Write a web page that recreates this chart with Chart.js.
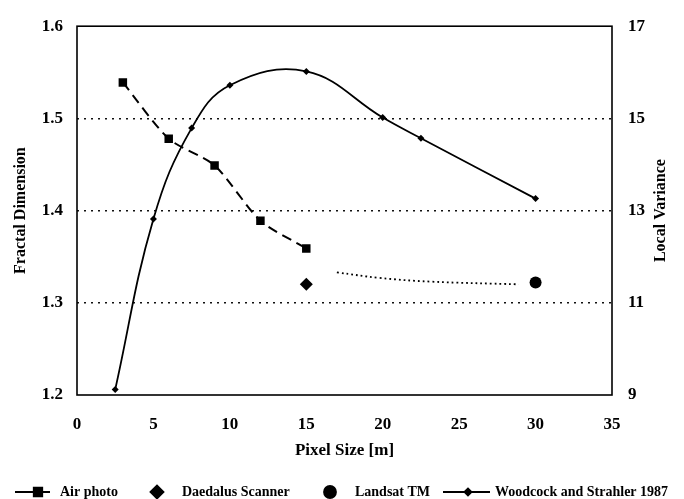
<!DOCTYPE html>
<html>
<head>
<meta charset="utf-8">
<script src="https://cdn.jsdelivr.net/npm/chart.js@4"></script>
<style>
  body { margin: 0; background: #fff; }
  #wrap { width: 684px; height: 499px; }
</style>
</head>
<body>
<div id="wrap"><canvas id="chart" width="684" height="499"></canvas></div>
<script>
// values
var airX = [3, 6, 9, 12, 15];
var airY = [1.539, 1.478, 1.449, 1.389, 1.359];
var daedalusX = [15];
var daedalusY = [1.32];
var landsatX = [30];
var landsatY = [1.322];
var woodX = [2.5, 5, 7.5, 10, 15, 20, 22.5, 30];
var woodY = [9.12, 12.82, 14.79, 15.72, 16.02, 15.02, 14.57, 13.26];
var trendX = [17, 19.8, 23.1, 28.9];
var trendY = [1.333, 1.327, 1.323, 1.320];

var xTicks = [0, 5, 10, 15, 20, 25, 30, 35];
var leftTicks = [1.2, 1.3, 1.4, 1.5, 1.6];
var rightTicks = [9, 11, 13, 15, 17];

var serif = "'Liberation Serif', 'DejaVu Serif', serif";

function pts(xs, ys) {
    var out = [];
    for (var i = 0; i < xs.length; i++) {
        out.push({x: xs[i], y: ys[i]});
    }
    return out;
}

// box round the plot area
var framePlugin = {
    id: 'frame',
    beforeDatasetsDraw: function(chart) {
        var a = chart.chartArea, ctx = chart.ctx;
        ctx.save();
        ctx.strokeStyle = '#000';
        ctx.lineWidth = 1.6;
        ctx.strokeRect(a.left, a.top, a.right - a.left, a.bottom - a.top);
        ctx.restore();
    }
};

// right axis title reads bottom to top, like the left one
var rightTitlePlugin = {
    id: 'rightTitle',
    afterDraw: function(chart) {
        var a = chart.chartArea, ctx = chart.ctx;
        ctx.save();
        ctx.translate(661, (a.top + a.bottom) / 2);
        ctx.rotate(-Math.PI / 2);
        ctx.font = 'bold 16px ' + serif;
        ctx.fillStyle = '#000';
        ctx.textAlign = 'center';
        ctx.textBaseline = 'middle';
        ctx.fillText('Local Variance', 0, 0);
        ctx.restore();
    }
};

// legend row under the chart, drawn by hand to get line + marker symbols
var legendPlugin = {
    id: 'paperLegend',
    afterDraw: function(chart) {
        var ctx = chart.ctx;
        var y = 492;
        var items = [
            {ds: 0, line: [15, 50], mark: 38, text: 60},
            {ds: 1, line: null, mark: 157, text: 182},
            {ds: 2, line: null, mark: 330, text: 355},
            {ds: 3, line: [443, 490], mark: 468, text: 495}
        ];
        ctx.save();
        items.forEach(function(it) {
            var ds = chart.data.datasets[it.ds];
            if (it.line) {
                ctx.beginPath();
                ctx.strokeStyle = '#000';
                ctx.lineWidth = 1.8;
                ctx.moveTo(it.line[0], y);
                ctx.lineTo(it.line[1], y);
                ctx.stroke();
            }
            Chart.helpers.drawPoint(ctx, {
                pointStyle: ds.pointStyle,
                radius: ds.pointRadius,
                rotation: 0,
                borderWidth: 1
            }, it.mark, y);
            ctx.fillStyle = '#000';
            ctx.fill();
            ctx.font = 'bold 14px ' + serif;
            ctx.textBaseline = 'middle';
            ctx.textAlign = 'left';
            ctx.fillText(ds.label, it.text, y);
        });
        ctx.restore();
    }
};

var chart = new Chart(document.getElementById('chart'), {
    type: 'scatter',
    data: {
        datasets: [{
            label: 'Air photo',
            data: pts(airX, airY),
            yAxisID: 'y',
            showLine: true,
            borderColor: '#000',
            backgroundColor: '#000',
            borderWidth: 2,
            borderDash: [10, 6],
            tension: 0.25,
            pointStyle: 'rect',
            pointRadius: 6,
            pointBorderWidth: 0
        }, {
            label: 'Daedalus Scanner',
            data: pts(daedalusX, daedalusY),
            yAxisID: 'y',
            showLine: false,
            borderColor: '#000',
            backgroundColor: '#000',
            pointStyle: 'rectRot',
            pointRadius: 6.5,
            pointBorderWidth: 0
        }, {
            label: 'Landsat TM',
            data: pts(landsatX, landsatY),
            yAxisID: 'y',
            showLine: false,
            borderColor: '#000',
            backgroundColor: '#000',
            pointStyle: 'circle',
            pointRadius: 6,
            pointBorderWidth: 0
        }, {
            label: 'Woodcock and Strahler 1987',
            data: pts(woodX, woodY),
            yAxisID: 'y2',
            showLine: true,
            borderColor: '#000',
            backgroundColor: '#000',
            borderWidth: 1.8,
            tension: 0.4,
            pointStyle: 'rectRot',
            pointRadius: 3.5,
            pointBorderWidth: 0
        }, {
            label: 'trend',
            data: pts(trendX, trendY),
            yAxisID: 'y',
            showLine: true,
            borderColor: '#000',
            borderWidth: 1.8,
            borderDash: [1.8, 3],
            tension: 0.4,
            pointRadius: 0
        }]
    },
    options: {
        responsive: false,
        animation: false,
        layout: { padding: { top: 14, left: 0, right: 0, bottom: 0 } },
        plugins: {
            legend: { display: false },
            tooltip: { enabled: false }
        },
        scales: {
            x: {
                type: 'linear',
                min: 0,
                max: 35,
                afterFit: function(s) { s.height = 104; },
                afterBuildTicks: function(s) { s.ticks = xTicks.map(function(v) { return {value: v}; }); },
                grid: { display: false, drawTicks: false },
                border: { display: false },
                ticks: {
                    padding: 19,
                    color: '#000',
                    font: { family: serif, size: 17, weight: 'bold' }
                },
                title: {
                    display: true,
                    text: 'Pixel Size [m]',
                    color: '#000',
                    padding: { top: 0, bottom: 38 },
                    font: { family: serif, size: 17, weight: 'bold' }
                }
            },
            y: {
                position: 'left',
                min: 1.2,
                max: 1.6,
                afterFit: function(s) { s.width = 77; },
                afterBuildTicks: function(s) { s.ticks = leftTicks.map(function(v) { return {value: v}; }); },
                grid: {
                    drawTicks: false,
                    color: function(c) {
                        var v = c.tick ? c.tick.value : 0;
                        return (v > 1.25 && v < 1.55) ? '#111' : 'rgba(0,0,0,0)';
                    },
                    lineWidth: 1.4
                },
                border: { display: false, dash: [2, 5] },
                ticks: {
                    padding: 14,
                    color: '#000',
                    font: { family: serif, size: 17, weight: 'bold' },
                    callback: function(v) { return v.toFixed(1); }
                },
                title: {
                    display: true,
                    text: 'Fractal Dimension',
                    color: '#000',
                    padding: { top: 11, bottom: 0 },
                    font: { family: serif, size: 16, weight: 'bold' }
                }
            },
            y2: {
                position: 'right',
                min: 9,
                max: 17,
                afterFit: function(s) { s.width = 72; },
                afterBuildTicks: function(s) { s.ticks = rightTicks.map(function(v) { return {value: v}; }); },
                grid: { display: false, drawTicks: false },
                border: { display: false },
                ticks: {
                    padding: 16,
                    color: '#000',
                    font: { family: serif, size: 17, weight: 'bold' }
                }
            }
        }
    },
    plugins: [framePlugin, rightTitlePlugin, legendPlugin]
});
</script>
</body>
</html>
